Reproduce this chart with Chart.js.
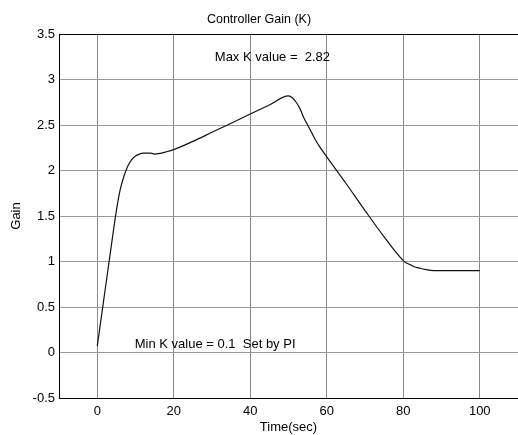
<!DOCTYPE html>
<html>
<head>
<meta charset="utf-8">
<script src="https://cdn.jsdelivr.net/npm/chart.js@4/dist/chart.umd.min.js"></script>
<style>
  html, body { margin: 0; padding: 0; background: #fff; }
</style>
</head>
<body>
<canvas id="gainChart" width="518" height="435"></canvas>
<script>
// data
const timeSec = [0, 1, 2, 3, 4, 5, 6, 7, 8, 9, 10, 11, 12, 13, 14, 15, 16, 18, 20, 25, 30, 35, 40, 45, 50,
  51, 52, 53, 54, 55, 56, 57, 58, 60, 65, 70, 75, 80, 81, 82, 83, 84, 86, 88, 90, 95, 100];
const gainK = [0.07, 0.37, 0.67, 0.97, 1.27, 1.56, 1.79, 1.94, 2.05, 2.12, 2.16, 2.18, 2.19, 2.19, 2.19, 2.18, 2.185, 2.205, 2.23, 2.32, 2.42, 2.52, 2.62, 2.72, 2.82,
  2.80, 2.75, 2.68, 2.58, 2.50, 2.42, 2.34, 2.27, 2.15, 1.86, 1.56, 1.27, 1.01, 0.98, 0.96, 0.94, 0.93, 0.91, 0.90, 0.90, 0.90, 0.90];
const xTicks = [0, 20, 40, 60, 80, 100];
const yTicks = [-0.5, 0, 0.5, 1, 1.5, 2, 2.5, 3, 3.5];
const notes = [
  { text: "Max K value =  2.82", x: 45.8, y: 3.24, align: "center" },
  { text: "Min K value = 0.1  Set by PI", x: 9.8, y: 0.09, align: "left" },
];

const FONT = "'Liberation Sans', Arial, Helvetica, sans-serif";

// top frame line + text annotations
const extras = {
  id: "extras",
  afterDraw(chart) {
    const { ctx, chartArea, scales } = chart;
    ctx.save();
    ctx.strokeStyle = "#000";
    ctx.lineWidth = 1;
    ctx.beginPath();
    ctx.moveTo(chartArea.left, Math.round(chartArea.top) + 0.5);
    ctx.lineTo(chartArea.right, Math.round(chartArea.top) + 0.5);
    ctx.stroke();
    ctx.fillStyle = "#000";
    ctx.font = "13px " + FONT;
    ctx.textBaseline = "middle";
    notes.forEach((n) => {
      ctx.textAlign = n.align;
      ctx.fillText(n.text, scales.x.getPixelForValue(n.x), scales.y.getPixelForValue(n.y));
    });
    ctx.restore();
  },
};

const ctx = document.getElementById("gainChart");

new Chart(ctx, {
  type: "line",
  data: {
    datasets: [
      {
        label: "Gain",
        data: timeSec.map((t, i) => ({ x: t, y: gainK[i] })),
        borderColor: "#111",
        borderWidth: 1.2,
        pointRadius: 0,
        fill: false,
        cubicInterpolationMode: "monotone",
      },
    ],
  },
  options: {
    responsive: false,
    animation: false,
    layout: { padding: { left: 0, right: 0, top: 0, bottom: 0 } },
    plugins: {
      legend: { display: false },
      tooltip: { enabled: false },
      title: {
        display: true,
        text: "Controller Gain (K)",
        color: "#000",
        font: { family: FONT, size: 12.5, weight: "normal" },
        padding: { top: 12, bottom: 7 },
      },
    },
    scales: {
      x: {
        type: "linear",
        min: -10,
        max: 110,
        afterBuildTicks: (s) => { s.ticks = xTicks.map((v) => ({ value: v })); },
        afterFit: (s) => { s.height = 37; },
        grid: { color: "#8a8a8a", drawTicks: false },
        border: { color: "#000", width: 1 },
        ticks: { color: "#000", padding: 6, font: { family: FONT, size: 13 } },
        title: {
          display: true,
          text: "Time(sec)",
          color: "#000",
          font: { family: FONT, size: 13 },
          padding: { top: 0, bottom: 0 },
        },
      },
      y: {
        min: -0.5,
        max: 3.5,
        afterBuildTicks: (s) => { s.ticks = yTicks.map((v) => ({ value: v })); },
        afterFit: (s) => { s.width = 59; },
        grid: { color: "#9a9a9a", drawTicks: false },
        border: { color: "#000", width: 1 },
        ticks: { color: "#000", padding: 4, font: { family: FONT, size: 13 }, callback: (v) => String(v) },
        title: {
          display: true,
          text: "Gain",
          color: "#000",
          font: { family: FONT, size: 13 },
          padding: { top: 9, bottom: 0 },
        },
      },
    },
  },
  plugins: [extras],
});
</script>
</body>
</html>
